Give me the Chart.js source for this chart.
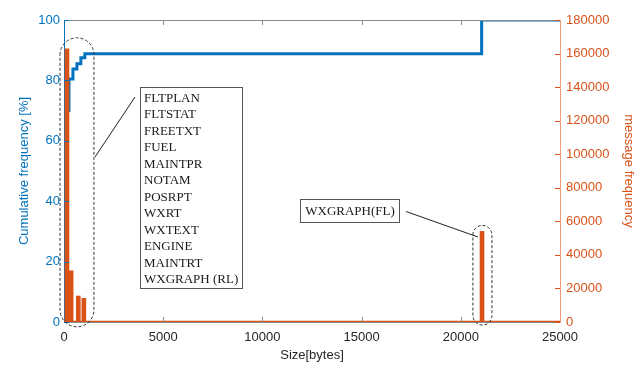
<!DOCTYPE html>
<html>
<head>
<meta charset="utf-8">
<script src="https://cdn.jsdelivr.net/npm/chart.js@4.4.1/dist/chart.umd.min.js"></script>
<style>
html,body{margin:0;padding:0;background:#fff;}
#wrap{width:642px;height:366px;position:relative;}
</style>
</head>
<body>
<div id="wrap"><canvas id="c" width="642" height="366"></canvas></div>
<script>
// ---- data ----
const sizeTicks = [0, 5000, 10000, 15000, 20000, 25000];
const cumTicks = [0, 20, 40, 60, 80, 100];
const freqTicks = [0, 20000, 40000, 60000, 80000, 100000, 120000, 140000, 160000, 180000];

// histogram bars (message size in bytes, message count)
const barSizes  = [150, 360, 720, 1000, 21070];
const barCounts = [162800, 30500, 15500, 14100, 54000];

// cumulative frequency step line: size where the step happens, value after the step
const cumSizes = [0, 150, 250, 450, 650, 850, 1050, 21050, 25000];
const cumFreq  = [0, 70.0, 80.5, 83.8, 85.5, 87.5, 88.8, 100, 100];

const leftMessageTypes = ['FLTPLAN','FLTSTAT','FREETXT','FUEL','MAINTPR','NOTAM','POSRPT','WXRT','WXTEXT','ENGINE','MAINTRT','WXGRAPH (RL)'];
const rightMessageType = 'WXGRAPH(FL)';

const BLUE = '#0072BD';
const ORANGE = '#D95319';
const AXIS_GRAY = '#262626';

const cumPoints = cumSizes.map((s, i) => ({x: s, y: cumFreq[i]}));
const barPoints = barSizes.map((s, i) => ({x: s, y: barCounts[i]}));
const baseline = [{x: sizeTicks[0], y: 0}, {x: sizeTicks[sizeTicks.length - 1], y: 0}];

const FONT = {family: '"Liberation Sans", Arial, sans-serif', size: 13};

function fixedTicks(values) {
  return function(scale) { scale.ticks = values.map(v => ({value: v})); };
}

// inward tick marks + top box line, drawn through the scales
const inwardTicks = {
  id: 'inwardTicks',
  afterDatasetsDraw(chart) {
    const {ctx, chartArea: a, scales} = chart;
    const L = 5;
    ctx.save();
    ctx.lineWidth = 1;
    ctx.strokeStyle = '#8c8c8c';
    ctx.beginPath(); ctx.moveTo(a.left, a.top + 0.5); ctx.lineTo(a.right, a.top + 0.5); ctx.stroke();
    sizeTicks.forEach(v => {
      if (v === sizeTicks[0] || v === sizeTicks[sizeTicks.length - 1]) return;
      const px = Math.round(scales.x.getPixelForValue(v)) + 0.5;
      ctx.strokeStyle = '#8c8c8c';
      ctx.beginPath(); ctx.moveTo(px, a.bottom); ctx.lineTo(px, a.bottom - L); ctx.stroke();
      ctx.beginPath(); ctx.moveTo(px, a.top); ctx.lineTo(px, a.top + L); ctx.stroke();
    });
    ctx.strokeStyle = BLUE;
    cumTicks.forEach(v => {
      const py = Math.round(scales.y.getPixelForValue(v)) + 0.5;
      ctx.beginPath(); ctx.moveTo(a.left, py); ctx.lineTo(a.left + L, py); ctx.stroke();
    });
    ctx.strokeStyle = ORANGE;
    freqTicks.forEach(v => {
      const py = Math.round(scales.y2.getPixelForValue(v)) + 0.5;
      ctx.beginPath(); ctx.moveTo(a.right, py); ctx.lineTo(a.right - L, py); ctx.stroke();
    });
    ctx.restore();
  }
};

function stadium(ctx, x0, y0, x1, y1) {
  const r = (x1 - x0) / 2;
  ctx.beginPath();
  ctx.moveTo(x0, y0 + r);
  ctx.arc(x0 + r, y0 + r, r, Math.PI, 0);
  ctx.lineTo(x1, y1 - r);
  ctx.arc(x0 + r, y1 - r, r, 0, Math.PI);
  ctx.closePath();
  ctx.stroke();
}

// callouts (dashed outlines, text boxes, leader lines)
const callouts = {
  id: 'callouts',
  afterDraw(chart) {
    const {ctx, scales} = chart;
    const X = v => scales.x.getPixelForValue(v);
    const Y = v => scales.y.getPixelForValue(v);
    ctx.save();
    ctx.strokeStyle = '#333';
    ctx.lineWidth = 1;
    ctx.setLineDash([3, 2]);
    stadium(ctx, X(-200), Y(94.1), X(1510), Y(-1.6));
    stadium(ctx, X(20610), Y(32.0), X(21570), Y(-1.0));
    ctx.setLineDash([]);

    const bx0 = 140.5, by0 = 87.5, bx1 = 242.5, by1 = 288.5;
    ctx.fillStyle = '#fff';
    ctx.fillRect(bx0, by0, bx1 - bx0, by1 - by0);
    ctx.strokeStyle = '#555';
    ctx.strokeRect(bx0, by0, bx1 - bx0, by1 - by0);
    ctx.fillStyle = '#1a1a1a';
    ctx.font = '13px "Liberation Serif", "Times New Roman", serif';
    ctx.textBaseline = 'middle';
    ctx.textAlign = 'left';
    leftMessageTypes.forEach((t, i) => ctx.fillText(t, 144, 98.5 + i * 16.5));
    ctx.strokeStyle = '#222';
    ctx.beginPath(); ctx.moveTo(135, 97); ctx.lineTo(95, 157); ctx.stroke();

    const rx0 = 300.5, ry0 = 199.5, rx1 = 399.5, ry1 = 222.5;
    ctx.fillStyle = '#fff';
    ctx.fillRect(rx0, ry0, rx1 - rx0, ry1 - ry0);
    ctx.strokeStyle = '#555';
    ctx.strokeRect(rx0, ry0, rx1 - rx0, ry1 - ry0);
    ctx.fillStyle = '#1a1a1a';
    ctx.textAlign = 'center';
    ctx.fillText(rightMessageType, (rx0 + rx1) / 2, 211.5);
    ctx.strokeStyle = '#222';
    ctx.beginPath(); ctx.moveTo(406, 211.5); ctx.lineTo(478, 237); ctx.stroke();
    ctx.restore();
  }
};

new Chart(document.getElementById('c'), {
  type: 'bar',
  data: {
    datasets: [
      {
        type: 'bar', label: 'message frequency', data: barPoints,
        xAxisID: 'x', yAxisID: 'y2',
        backgroundColor: ORANGE, borderWidth: 0, barThickness: 4, order: 0
      },
      {
        type: 'line', label: 'zero bins', data: baseline,
        xAxisID: 'x', yAxisID: 'y2',
        borderColor: ORANGE, borderWidth: 2.5, pointRadius: 0, order: 0
      },
      {
        type: 'line', label: 'Cumulative frequency', data: cumPoints,
        xAxisID: 'x', yAxisID: 'y',
        borderColor: BLUE, borderWidth: 3, pointRadius: 0, stepped: 'before',
        borderJoinStyle: 'miter', order: 1
      }
    ]
  },
  options: {
    responsive: false,
    animation: false,
    layout: {padding: {top: 20, left: 0, right: 0, bottom: 0}},
    plugins: {legend: {display: false}, tooltip: {enabled: false}},
    scales: {
      x: {
        type: 'linear', position: 'bottom', min: 0, max: 25000, offset: false,
        afterBuildTicks: fixedTicks(sizeTicks),
        afterFit: s => { s.height = 44; },
        grid: {display: false, drawTicks: false, offset: false},
        border: {display: true, color: '#8c8c8c'},
        ticks: {color: AXIS_GRAY, font: FONT, padding: 8, maxRotation: 0, autoSkip: false,
                callback: v => String(v)},
        title: {display: true, text: 'Size[bytes]', color: AXIS_GRAY, font: FONT, padding: {top: 0, bottom: 3}}
      },
      y: {
        type: 'linear', position: 'left', min: 0, max: 100,
        afterBuildTicks: fixedTicks(cumTicks),
        afterFit: s => { s.width = 64; },
        grid: {display: false, drawTicks: false},
        border: {display: true, color: BLUE},
        ticks: {color: BLUE, font: FONT, padding: 4},
        title: {display: true, text: 'Cumulative frequency [%]', color: BLUE, font: FONT, padding: {top: 17, bottom: 0}}
      },
      y2: {
        type: 'linear', position: 'right', min: 0, max: 180000,
        afterBuildTicks: fixedTicks(freqTicks),
        afterFit: s => { s.width = 82; },
        grid: {display: false, drawTicks: false},
        border: {display: true, color: '#ee9a78'},
        ticks: {color: ORANGE, font: FONT, padding: 6, callback: v => String(v)},
        title: {display: true, text: 'message frequency', color: ORANGE, font: FONT, padding: {top: 6, bottom: 0}}
      }
    }
  },
  plugins: [inwardTicks, callouts]
});
</script>
</body>
</html>
